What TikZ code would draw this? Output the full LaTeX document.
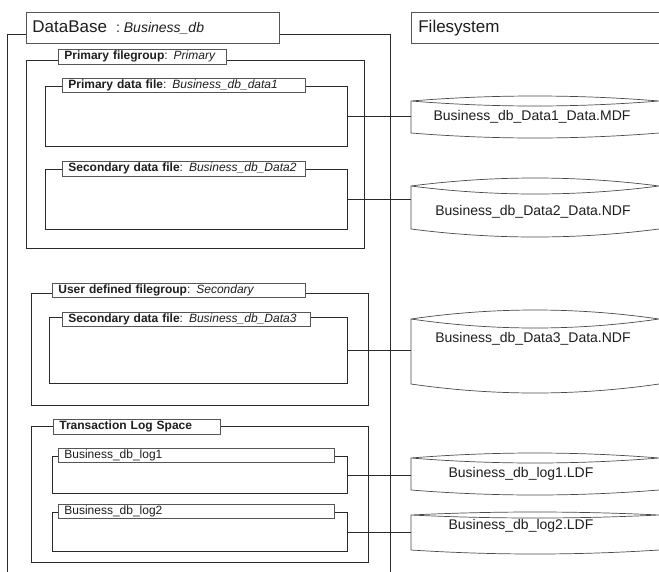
\documentclass[tikz,border=0pt]{standalone}
\usepackage{fontspec}
\setmainfont{Liberation Sans}
\definecolor{ln}{HTML}{2A2A2A}
\definecolor{lb}{HTML}{555555}
\definecolor{tx}{HTML}{1E1E1E}
\newcommand{\dbcyl}[5]{%
  \draw[cylline] (411,#2) .. controls (493.7,{#2-1.333*#3}) and (576.3,{#2-1.333*#3}) .. (659,#2)
    .. controls (576.3,{#2+1.333*#3}) and (493.7,{#2+1.333*#3}) .. (411,#2) -- (411,#4)
    .. controls (493.7,{#4+1.333*#5}) and (576.3,{#4+1.333*#5}) .. (659,#4);
  \coordinate (#1) at (411,#2);}
\begin{document}
\begin{tikzpicture}[x=1pt,y=-1pt,
  frame/.style={draw=ln, line width=1pt, inner sep=0pt, anchor=north west, fill=none},
  lbl/.style={draw=lb, line width=0.7pt, fill=white, inner xsep=6pt, inner ysep=0pt,
    anchor=north west, align=left, text=tx, font=\fontsize{12}{13}\selectfont},
  conn/.style={draw=ln, line width=1pt},
  cylline/.style={draw=ln!85, line width=0.7pt},
  cyltext/.style={text=tx, font=\fontsize{14}{16}\selectfont, inner sep=0pt}]
\useasboundingbox (0,0) rectangle (659,571);
\clip (0,0) rectangle (659,571);
\fill[white] (0,0) rectangle (659,571);

% database outer frame (open at the bottom)
\draw[conn] (7,580) -- (7,34) -- (390,34) -- (390,580);

% frames
\node[frame, minimum width=338pt, minimum height=188pt] (pfg) at (26,60) {};
\node[frame, minimum width=302pt, minimum height=60pt] (d1) at (45,86) {};
\node[frame, minimum width=302pt, minimum height=60pt] (d2) at (45,169) {};
\node[frame, minimum width=337pt, minimum height=112pt] (ufg) at (31,293) {};
\node[frame, minimum width=298pt, minimum height=66pt] (d3) at (49,317) {};
\node[frame, minimum width=337pt, minimum height=136pt] (tls) at (31,426) {};
\node[frame, minimum width=295pt, minimum height=37pt] (l1) at (52,456) {};
\node[frame, minimum width=295pt, minimum height=39pt] (l2) at (52,512) {};

% title boxes
\node[lbl, text width=241pt, minimum height=31pt] (dbl) at (26,12)
  {{\fontsize{17}{19}\selectfont DataBase}\hspace{9pt}{\fontsize{14}{16}\selectfont :\hspace{4pt}\itshape Business\_db}};
\node[lbl, text width=248pt, minimum height=31pt, inner xsep=7pt] (fsl) at (411,12)
  {\fontsize{17}{19}\selectfont Filesystem};
\node[lbl, text width=156pt, minimum height=15pt] (pfgl) at (58,49)
  {\textbf{Primary filegroup}: \textit{Primary}};
\node[lbl, text width=231pt, minimum height=14pt] (d1l) at (62,78)
  {\textbf{Primary data file}: \textit{Business\_db\_data1}};
\node[lbl, text width=231pt, minimum height=15pt] (d2l) at (62,161)
  {\textbf{Secondary data file}: \textit{Business\_db\_Data2}};
\node[lbl, text width=241pt, minimum height=14pt] (ufgl) at (52,283)
  {\textbf{User defined filegroup}: \textit{Secondary}};
\node[lbl, text width=236pt, minimum height=14pt] (d3l) at (62,312)
  {\textbf{Secondary data file}: \textit{Business\_db\_Data3}};
\node[lbl, text width=155pt, minimum height=15pt] (tlsl) at (53,419)
  {\textbf{Transaction Log Space}};
\node[lbl, text width=264pt, minimum height=14pt] (l1l) at (58,448)
  {Business\_db\_log1};
\node[lbl, text width=264pt, minimum height=14pt] (l2l) at (58,504)
  {Business\_db\_log2};

% cylinders
\dbcyl{c1}{101}{5}{133}{5}
\dbcyl{c2}{186}{8}{229}{8}
\dbcyl{c3}{319}{9}{384}{9}
\dbcyl{c4}{458}{5}{490}{5}
\dbcyl{c5}{515}{3}{550}{4}
\node[cyltext] (t1) at (532,117) {Business\_db\_Data1\_Data.MDF};
\node[cyltext] (t2) at (533,212) {Business\_db\_Data2\_Data.NDF};
\node[cyltext] (t3) at (533,339) {Business\_db\_Data3\_Data.NDF};
\node[cyltext] (t4) at (521,474) {Business\_db\_log1.LDF};
\node[cyltext] (t5) at (521,526) {Business\_db\_log2.LDF};

% connectors
\draw[conn] (d1.east) -- (d1.east -| c1);
\draw[conn] (d2.east) -- (d2.east -| c2);
\draw[conn] (d3.east) -- (d3.east -| c3);
\draw[conn] (l1.east) -- (l1.east -| c4);
\draw[conn] (l2.east) -- (l2.east -| c5);
\end{tikzpicture}
\end{document}
